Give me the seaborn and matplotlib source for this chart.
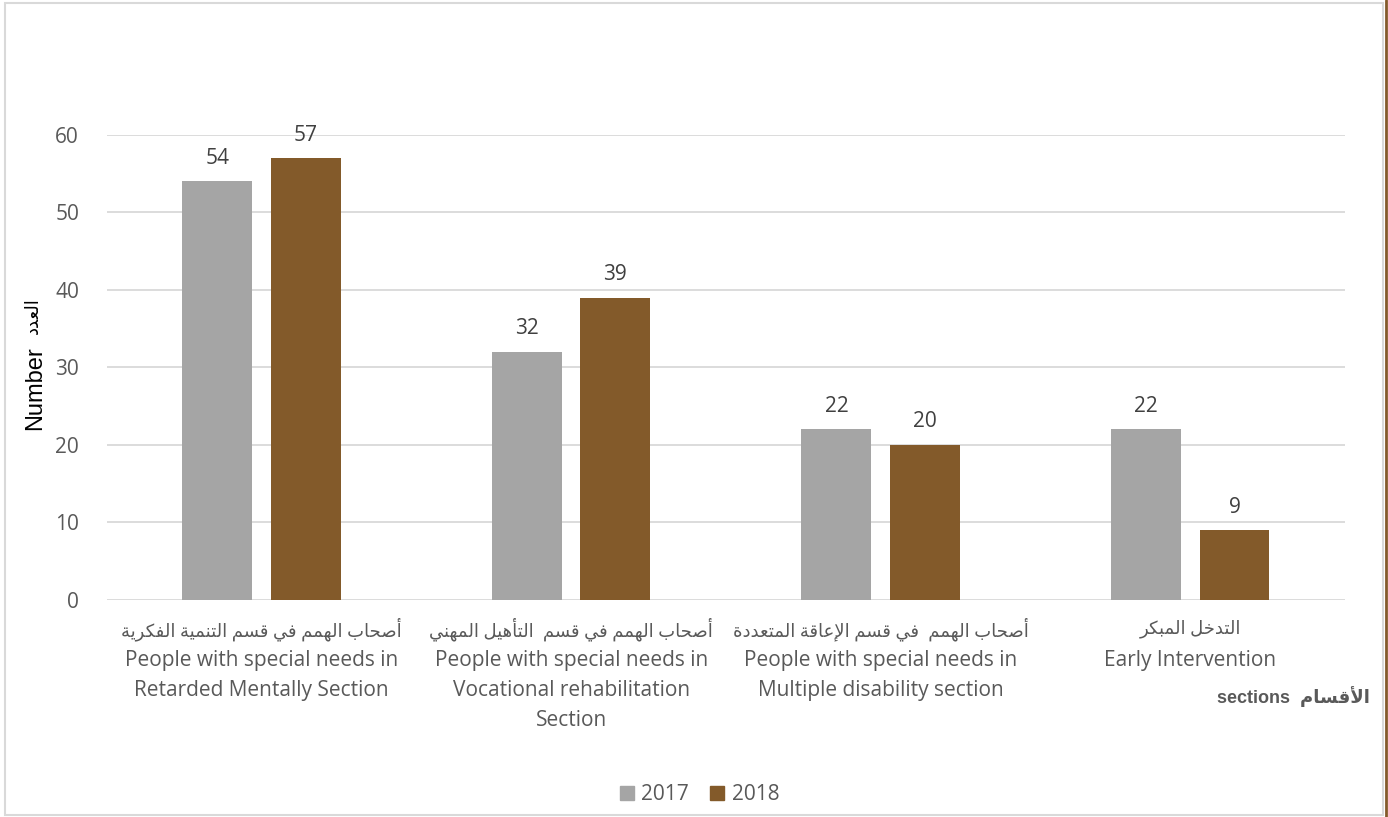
import numpy as np
import pandas as pd
import matplotlib
matplotlib.use("Agg")
import matplotlib.pyplot as plt
from matplotlib.patches import Rectangle
from matplotlib.lines import Line2D
import seaborn as sns

# chart data
sections_ar = ["أصحاب الهمم في قسم التنمية الفكرية",
               "أصحاب الهمم في قسم  التأهيل المهني",
               "أصحاب الهمم  في قسم الإعاقة المتعددة",
               "التدخل المبكر"]
sections_en = ["People with special needs in\nRetarded Mentally Section",
               "People with special needs in\nVocational rehabilitation\nSection",
               "People with special needs in\nMultiple disability section",
               "Early Intervention"]
years = ["2017", "2018"]
values_2017 = [54, 32, 22, 22]
values_2018 = [57, 39, 20, 9]

# matplotlib has no arabic shaping, so pick presentation forms by hand and reverse
AR_FORMS = {
    'ا': (0xFE8D, False), 'أ': (0xFE83, False), 'إ': (0xFE87, False),
    'ب': (0xFE8F, True), 'ة': (0xFE93, False), 'ت': (0xFE95, True),
    'ح': (0xFEA1, True), 'خ': (0xFEA5, True), 'د': (0xFEA9, False),
    'ر': (0xFEAD, False), 'س': (0xFEB1, True), 'ص': (0xFEB9, True),
    'ع': (0xFEC9, True), 'ف': (0xFED1, True), 'ق': (0xFED5, True),
    'ك': (0xFED9, True), 'ل': (0xFEDD, True), 'م': (0xFEE1, True),
    'ن': (0xFEE5, True), 'ه': (0xFEE9, True), 'ي': (0xFEF1, True),
}
LAM_ALEF = {'ا': 0xFEFB, 'أ': 0xFEF7, 'إ': 0xFEF9}


def arabic(text):
    out = []
    i = 0
    while i < len(text):
        ch = text[i]
        if ch not in AR_FORMS:
            out.append(ch)
            i += 1
            continue
        prev = text[i - 1] if i > 0 else ''
        joins_prev = prev in AR_FORMS and AR_FORMS[prev][1]
        if ch == 'ل' and i + 1 < len(text) and text[i + 1] in LAM_ALEF:
            out.append(chr(LAM_ALEF[text[i + 1]] + int(joins_prev)))
            i += 2
            continue
        base, dual = AR_FORMS[ch]
        nxt = text[i + 1] if i + 1 < len(text) else ''
        joins_next = dual and nxt in AR_FORMS
        if joins_prev and joins_next:
            form = base + 3
        elif joins_prev:
            form = base + 1
        elif joins_next:
            form = base + 2
        else:
            form = base
        out.append(chr(form))
        i += 1
    return ''.join(reversed(out))


df = pd.DataFrame({
    "section": list(range(4)) * 2,
    "year": [years[0]] * 4 + [years[1]] * 4,
    "count": values_2017 + values_2018,
})

gray = "#A5A5A5"
brown = "#835A2A"
text_col = "#595959"
fams = ["Open Sans", "DejaVu Sans"]

sns.set_style("white")
plt.rcParams["font.family"] = fams

fig = plt.figure(figsize=(13.88, 8.17), dpi=100)
ax = fig.add_axes([0.077, 0.2656, 0.892, 0.5692])

sns.barplot(data=df, x="section", y="count", hue="year", palette=[gray, brown],
            width=0.572, gap=0.21, ax=ax, legend=False, saturation=1,
            edgecolor="none", linewidth=0)

for cont in ax.containers:
    ax.bar_label(cont, padding=9, fontsize=15, color="#404040")

ax.set_xlim(-0.5, 3.5)
ax.set_ylim(0, 60)
ax.set_yticks(np.arange(0, 61, 10))
ax.yaxis.grid(True, color="#D9D9D9", lw=1.3)
ax.set_axisbelow(True)
for s in ax.spines.values():
    s.set_visible(False)
ax.tick_params(axis="y", length=0, pad=20, labelsize=15, labelcolor=text_col)
ax.tick_params(axis="x", length=0, labelbottom=False)
ax.set_xlabel("")
ax.set_ylabel("")

# category labels: arabic line then english lines
tr = ax.get_xaxis_transform()
for i in range(4):
    ax.text(i, -29 / 465, arabic(sections_ar[i]), transform=tr, ha="center",
            va="center", fontsize=13, color=text_col)
    ax.text(i, -50 / 465, sections_en[i], transform=tr, ha="center", va="top",
            fontsize=15, color=text_col, linespacing=1.55)

# axis titles
fig.text(35 / 1388, 1 - 388 / 817, "Number", rotation=90,
         ha="center", va="center", fontsize=17, color="black",
         family="Liberation Sans")
fig.text(33 / 1388, 1 - 316 / 817, arabic("العدد"), rotation=90,
         ha="center", va="center", fontsize=13, color="black",
         family="DejaVu Sans")
fig.text(1370 / 1388, 1 - 697 / 817, "sections  " + arabic("الأقسام"),
         ha="right", va="center", fontsize=13, fontweight="bold", color=text_col,
         family=["Liberation Sans", "DejaVu Sans"])

handles = [Line2D([], [], marker="s", ls="", markersize=10, color=c) for c in [gray, brown]]
fig.legend(handles, years, loc="center", bbox_to_anchor=(0.504, 1 - 795 / 817), ncol=2,
           frameon=False, fontsize=15, labelcolor=text_col, handlelength=0.7,
           handletextpad=0.35, columnspacing=1.0)

# chart area border
fig.add_artist(Rectangle((0.0036, 0.002), 0.9928, 0.9943, transform=fig.transFigure,
                         fill=False, ec="#D9D9D9", lw=1.5))
fig.add_artist(Line2D([0.9989, 0.9989], [0, 1], transform=fig.transFigure,
                      color=brown, lw=2))

fig.savefig("out.png", dpi=100)
